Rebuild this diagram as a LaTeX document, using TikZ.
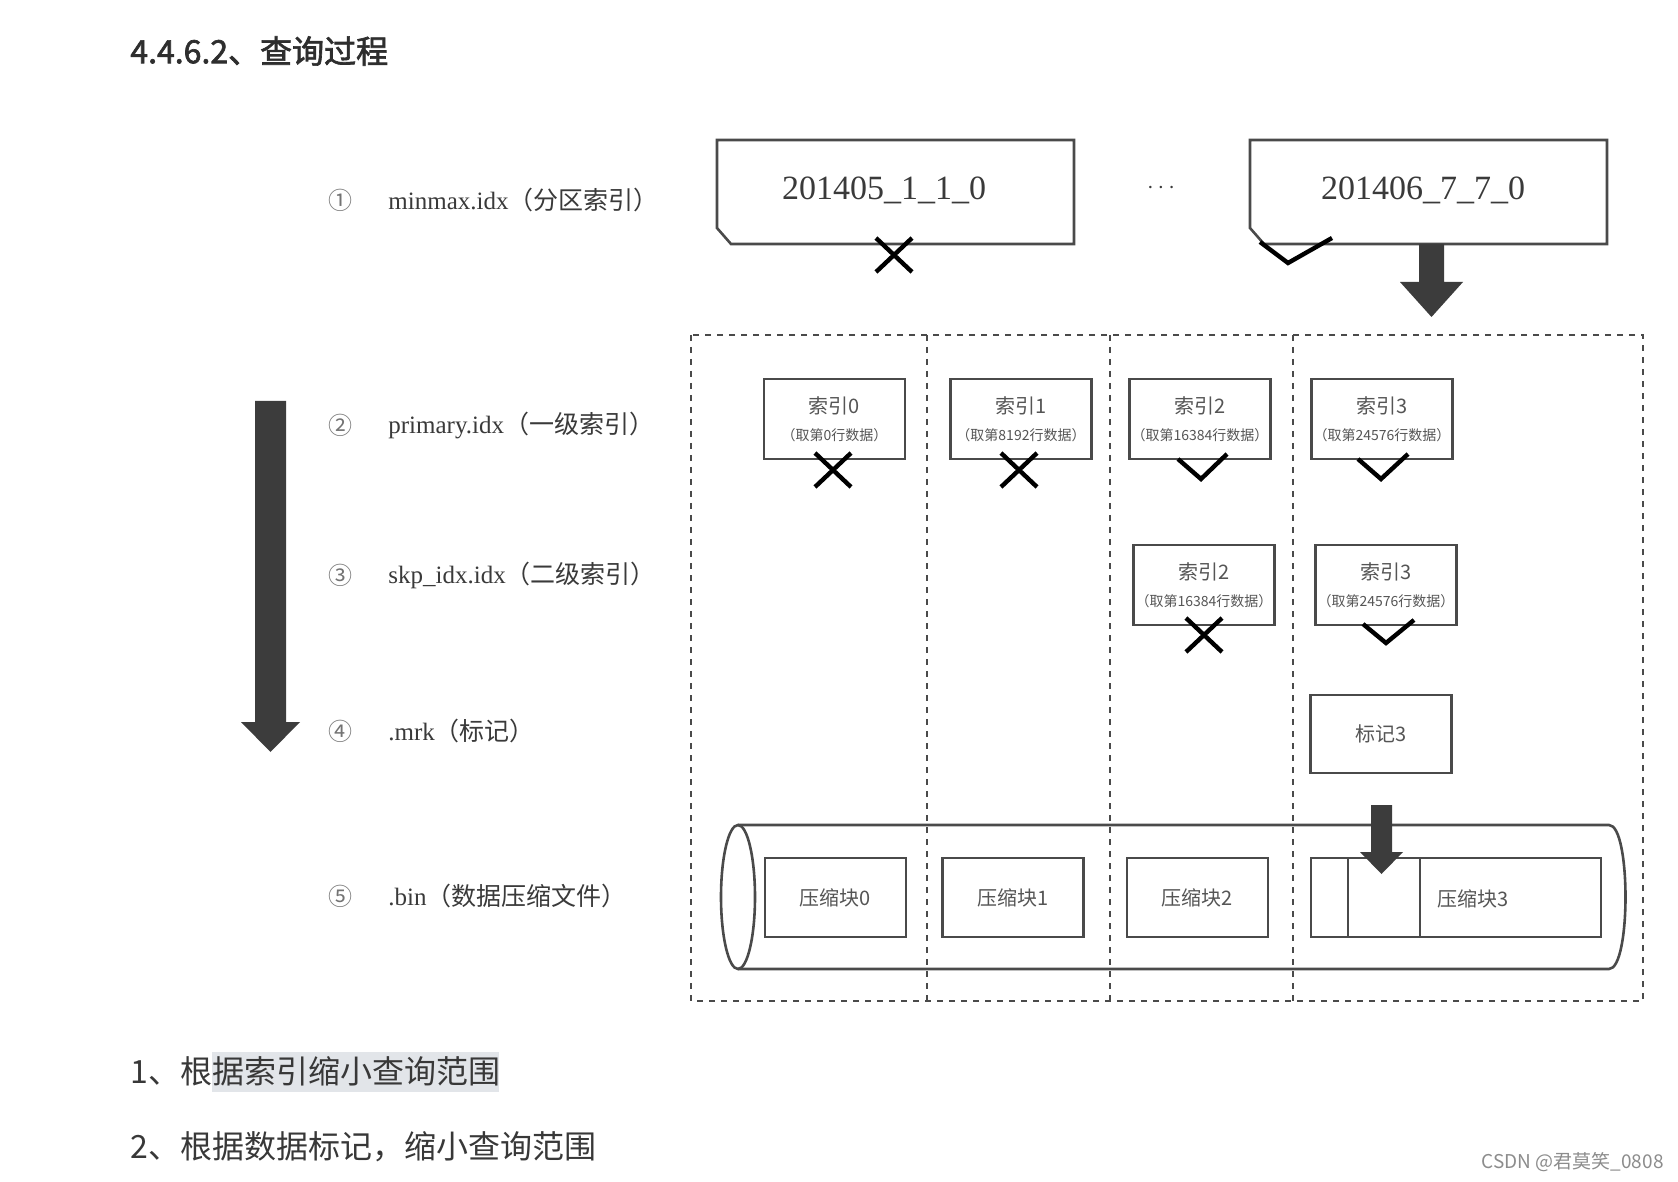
\documentclass[tikz,border=0pt]{standalone}
\usepackage{fontspec}
\setmainfont{Liberation Serif}
\newfontfamily\cjk{Noto Sans CJK SC}
\newfontfamily\cjkb[FakeBold=2]{Noto Sans CJK SC}
\definecolor{ln}{HTML}{4A4A4A}
\definecolor{tx}{HTML}{3A3A3A}
\definecolor{tb}{HTML}{555555}
\definecolor{arr}{HTML}{3C3C3C}
\definecolor{hl}{HTML}{E2E5E9}
\begin{document}
\begin{tikzpicture}[x=0.5pt,y=-0.5pt,
  boxline/.style={draw=ln,line width=1.3pt},
  dsh/.style={draw=ln,line width=1.1pt,dash pattern=on 3pt off 3pt},
  tick/.style={draw=black,line width=2.2pt},
  lab/.style={anchor=west,inner sep=0pt,text=tx,font=\fontsize{12.5pt}{14pt}\selectfont},
  num/.style={inner sep=0pt,text=black!55,font=\cjk\fontsize{12pt}{14pt}\selectfont},
  idxbox/.style={boxline,minimum width=70.5pt,minimum height=40pt,inner sep=0pt,align=center,text=tb},
  blkbox/.style={boxline,minimum width=70.5pt,minimum height=39.5pt,inner sep=0pt,text=tb,font=\cjk\fontsize{10pt}{12pt}\selectfont},
  arrowfill/.style={fill=arr,draw=none}]
\useasboundingbox (0,0) rectangle (1678,1182);
\fill[white] (0,0) rectangle (1678,1182);

% title
\node[anchor=west,inner sep=0pt,text=black!82,font=\cjkb\fontsize{16pt}{18pt}\selectfont] (title) at (130,51) {4.4.6.2、查询过程};

% row labels
\node[num] (n1) at (340,200) {①};
\node[num] (n2) at (340,425) {②};
\node[num] (n3) at (340,575) {③};
\node[num] (n4) at (340,731) {④};
\node[num] (n5) at (340,896) {⑤};
\node[lab] (r1) at (388,200) {minmax.idx{\cjk （分区索引）}};
\node[lab] (r2) at (388,425) {primary.idx{\cjk （一级索引）}};
\node[lab] (r3) at (388,575) {skp\_idx.idx{\cjk （二级索引）}};
\node[lab] (r4) at (388,731) {.mrk{\cjk （标记）}};
\node[lab] (r5) at (388,896) {.bin{\cjk （数据压缩文件）}};

% big left arrow
\path[arrowfill] (255,401) -- (286,401) -- (286,722) -- (300,722) -- (270.5,752) -- (241,722) -- (255,722) -- cycle;

% partition boxes
\draw[boxline] (717,140) -- (1074,140) -- (1074,244) -- (731,244) -- (717,228) -- cycle;
\node[text=tx,font=\fontsize{17pt}{20pt}\selectfont] (p1) at (884,190) {201405\_1\_1\_0};
\node[text=tx,font=\fontsize{13pt}{16pt}\selectfont] (dots) at (1161,188) {$\cdots$};
\draw[boxline] (1250,140) -- (1607,140) -- (1607,244) -- (1264,244) -- (1250,228) -- cycle;
\node[text=tx,font=\fontsize{17pt}{20pt}\selectfont] (p2) at (1423,190) {201406\_7\_7\_0};
\draw[tick] (876,238) -- (912,272) (876,272) -- (912,238);
\draw[tick] (1260,242) -- (1288,263) -- (1332,238);
\path[arrowfill] (1419,244) -- (1444,244) -- (1444,282) -- (1463,282) -- (1431.5,317) -- (1400,282) -- (1419,282) -- cycle;

% dashed frame and columns
\draw[dsh] (691,335) rectangle (1643,1001);
\draw[dsh] (927,335) -- (927,1001);
\draw[dsh] (1110,335) -- (1110,1001);
\draw[dsh] (1293,335) -- (1293,1001);

% primary index boxes
\node[idxbox] (i0) at (834.5,419) {{\cjk\fontsize{10pt}{12pt}\selectfont 索引0}\\[1.5pt]{\cjk\fontsize{7pt}{9pt}\selectfont （取第0行数据）}};
\node[idxbox] (i1) at (1021,419) {{\cjk\fontsize{10pt}{12pt}\selectfont 索引1}\\[1.5pt]{\cjk\fontsize{7pt}{9pt}\selectfont （取第8192行数据）}};
\node[idxbox] (i2) at (1200,419) {{\cjk\fontsize{10pt}{12pt}\selectfont 索引2}\\[1.5pt]{\cjk\fontsize{7pt}{9pt}\selectfont （取第16384行数据）}};
\node[idxbox] (i3) at (1382,419) {{\cjk\fontsize{10pt}{12pt}\selectfont 索引3}\\[1.5pt]{\cjk\fontsize{7pt}{9pt}\selectfont （取第24576行数据）}};
\draw[tick] (815,453) -- (851,487) (815,487) -- (851,453);
\draw[tick] (1001,453) -- (1037,487) (1001,487) -- (1037,453);
\draw[tick] (1178,459) -- (1201,479) -- (1227,454);
\draw[tick] (1358,459) -- (1381,479) -- (1408,454);

% skip index boxes
\node[idxbox] (s2) at (1204,585) {{\cjk\fontsize{10pt}{12pt}\selectfont 索引2}\\[1.5pt]{\cjk\fontsize{7pt}{9pt}\selectfont （取第16384行数据）}};
\node[idxbox] (s3) at (1386,585) {{\cjk\fontsize{10pt}{12pt}\selectfont 索引3}\\[1.5pt]{\cjk\fontsize{7pt}{9pt}\selectfont （取第24576行数据）}};
\draw[tick] (1186,618) -- (1222,652) (1186,652) -- (1222,618);
\draw[tick] (1363,624) -- (1386,643) -- (1414,620);

% mark box
\node[idxbox,minimum height=39pt,font=\cjk\fontsize{10pt}{12pt}\selectfont] (m3) at (1381,734) {标记3};

% cylinder
\draw[boxline] (738,825) -- (1609,825) .. controls (1631,825) and (1631,969) .. (1609,969) -- (738,969);
\draw[boxline] (738,897) ellipse [x radius=17, y radius=72];
\node[blkbox] (b0) at (835.5,897.5) {压缩块0};
\node[blkbox] (b1) at (1013,897.5) {压缩块1};
\node[blkbox] (b2) at (1197.5,897.5) {压缩块2};
\draw[boxline] (1311,858) rectangle (1601,937);
\draw[boxline] (1348,858) -- (1348,937) (1420,858) -- (1420,937);
\node[inner sep=0pt,text=tb,font=\cjk\fontsize{10pt}{12pt}\selectfont] (b3) at (1473,899) {压缩块3};
\path[arrowfill] (1371,805) -- (1392,805) -- (1392,852) -- (1403,852) -- (1381.5,874) -- (1360,852) -- (1371,852) -- cycle;

% bottom notes
\fill[hl] (212,1052) rectangle (499,1092);
\node[anchor=west,inner sep=0pt,text=black!78,font=\cjk\fontsize{16pt}{18pt}\selectfont] (t1) at (130,1071) {1、根据索引缩小查询范围};
\node[anchor=west,inner sep=0pt,text=black!78,font=\cjk\fontsize{16pt}{18pt}\selectfont] (t2) at (130,1147) {2、根据数据标记，缩小查询范围};
\node[anchor=east,inner sep=0pt,text=black!45,font=\cjk\fontsize{9.5pt}{11pt}\selectfont] (csdn) at (1664,1162) {CSDN @君莫笑\_0808};
\end{tikzpicture}
\end{document}
